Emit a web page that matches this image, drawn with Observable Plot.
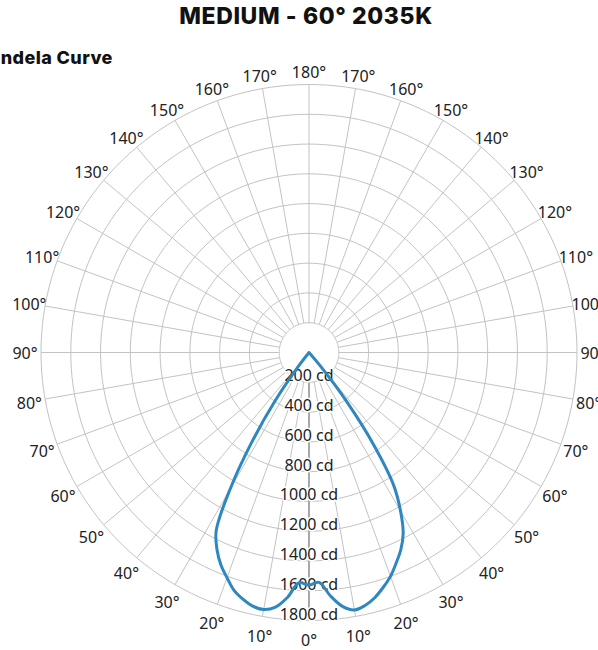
<!DOCTYPE html>
<html><head><meta charset="utf-8">
<script src="https://cdn.jsdelivr.net/npm/d3@7"></script>
<script src="https://cdn.jsdelivr.net/npm/@observablehq/plot@0.6"></script>
<style>
html,body{margin:0;padding:0;background:#fff;}
#chart{width:598px;height:650px;overflow:hidden;}
</style></head><body><div id="chart"></div>
<script>
const title = "MEDIUM - 60° 2035K";
const subtitle = "Candela Curve";
// polar angles (degrees from nadir)
const angles = [0, 2.5, 5, 7.5, 10, 12.5, 15, 17.5, 20, 22.5, 25, 27.5, 30, 32.5, 35, 37.5, 40, 42.5, 45];
// right half (C0) and left half (C180), candela
const candelaC0   = [1562, 1545, 1640, 1720, 1756, 1740, 1705, 1655, 1600, 1530, 1460, 1370, 1230, 1060, 760, 420, 120, 0, 0];
const candelaC180 = [1562, 1548, 1650, 1725, 1753, 1745, 1715, 1675, 1610, 1545, 1462, 1350, 1060, 720, 400, 110, 0, 0, 0];
const ringValues = [200, 400, 600, 800, 1000, 1200, 1400, 1600, 1800];
const ringLabels = ringValues.map(v => `${v} cd`);
const angleTicks = [0, 10, 20, 30, 40, 50, 60, 70, 80, 90, 100, 110, 120, 130, 140, 150, 160, 170, 180];

const W = 598, H = 650, cx = 308.5, cy = 352;
const k = 268 / 1800; // px per cd
const rad = d => d * Math.PI / 180;
const px = p => p / k;

// grid rings
const ringPts = [];
for (const r of ringValues) for (let a = 0; a <= 360; a += 2) ringPts.push({r, a});
// spokes every 10°
const spokes = d3.range(0, 360, 10);
// angle labels
const labelData = [];
for (const t of angleTicks) {
  labelData.push({t, s: -1});
  if (t > 0 && t < 180) labelData.push({t, s: 1});
}
// curve: left side from 45° down to 0°, then right side back up
const curvePts = [];
for (let i = angles.length - 1; i >= 0; i--) curvePts.push({a: angles[i], r: candelaC180[i], s: -1});
for (let i = 1; i < angles.length; i++) curvePts.push({a: angles[i], r: candelaC0[i], s: 1});

const R = px(284);
const chart = Plot.plot({
  width: W, height: H, margin: 0,
  x: {domain: [-px(cx), px(W - cx)], axis: null},
  y: {domain: [-px(H - cy), px(cy)], axis: null},
  style: {background: "#fff"},
  marks: [
    Plot.line(ringPts, {x: d => d.r * Math.sin(rad(d.a)), y: d => d.r * Math.cos(rad(d.a)), z: "r", stroke: "#c3c3c3", strokeWidth: 1}),
    Plot.link(spokes, {x1: a => 200 * Math.sin(rad(a)), y1: a => -200 * Math.cos(rad(a)), x2: a => 1800 * Math.sin(rad(a)), y2: a => -1800 * Math.cos(rad(a)), stroke: a => a === 0 ? "#a8a8a8" : "#c3c3c3", strokeWidth: a => a === 0 ? 2 : 1}),
    Plot.text(ringValues, {x: 0, y: v => -v + px(1), text: (v, i) => ringLabels[i], lineAnchor: "bottom", textAnchor: "middle", fontSize: 16, fontFamily: "Noto Sans", fill: "#222", stroke: "white", strokeWidth: 3}),
    Plot.text(labelData, {x: d => d.s * R * Math.sin(rad(d.t)), y: d => -R * Math.cos(rad(d.t)) - px(1 + 3.5 * Math.abs(Math.cos(rad(d.t)))), text: d => `${d.t}°`, lineAnchor: "middle", textAnchor: "middle", fontSize: 16, fontFamily: "Noto Sans", fill: "#222"}),
    Plot.line(curvePts, {x: d => d.s * d.r * Math.sin(rad(d.a)), y: d => -d.r * Math.cos(rad(d.a)), curve: "catmull-rom", stroke: "#2f87c0", strokeWidth: 3}),
    Plot.text([title], {frameAnchor: "top", dx: 6.5, dy: 23, lineAnchor: "bottom", fontSize: 23, fontWeight: 800, fontFamily: "Inter", fill: "#111"}),
    Plot.text([subtitle], {frameAnchor: "top-left", dx: -24.5, dy: 63, lineAnchor: "bottom", textAnchor: "start", fontSize: 18, fontWeight: 800, fontFamily: "Inter", fill: "#111"})
  ]
});
d3.select(chart).selectAll("text").filter(function() { return this.textContent === title; }).attr("letter-spacing", "0.6px").style("letter-spacing", "0.6px");
d3.select(chart).selectAll("text").filter(function() { return this.textContent === subtitle; }).attr("letter-spacing", "0.4px").style("letter-spacing", "0.4px");
document.getElementById("chart").appendChild(chart);
</script></body></html>
